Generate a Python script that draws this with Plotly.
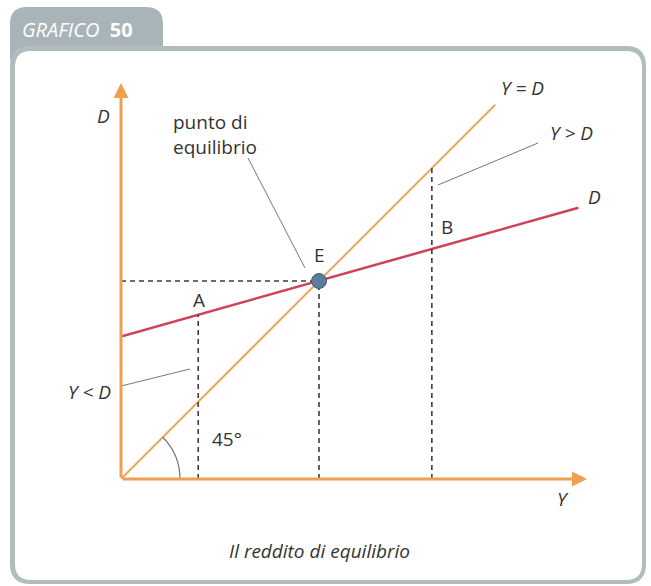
import plotly.graph_objects as go

# ---- data (economic units) ----
Y_a, Y_e, Y_b = 39, 100, 157
line45_x = [0, 189]
line45_y = [0, 189]
D_x = [0, 231]
D_y = [72, 137]
D_at_Ya = 83
E_point = (100, 100)
x_axis_max = 235.35
y_axis_max = 200
tick_vals = [Y_a, Y_e, Y_b]
tick_text = ["Y<sub>a</sub>", "Y<sub>e</sub>", "Y<sub>b</sub>"]

# ---- pixel layout helpers ----
W, H = 651, 586
L, R, T, B = 121, 64, 83, 107
PW, PH = W - L - R, H - T - B
sx = PW / x_axis_max
sy = PH / y_axis_max

def dx(px):  # pixel x -> data x
    return (px - L) / sx

def dy(py):  # pixel y -> data y
    return (H - B - py) / sy

def ppx(px):  # pixel -> paper
    return (px - L) / PW

def ppy(py):
    return (H - B - py) / PH

ORANGE = "#F0A35E"
AXIS_OR = "#EFA04F"
RED = "#D1405A"
TXT = "#333333"
FONT = "Open Sans"
FS = 19

fig = go.Figure()

fig.add_trace(go.Scatter(x=line45_x, y=line45_y, mode="lines",
                         line=dict(color=ORANGE, width=2), hoverinfo="skip", cliponaxis=False))
fig.add_trace(go.Scatter(x=D_x, y=D_y, mode="lines",
                         line=dict(color=RED, width=2.5), hoverinfo="skip", cliponaxis=False))

dash = dict(color="#3c3c3c", width=1.6, dash="5px,4px")
fig.add_trace(go.Scatter(x=[0, E_point[0]], y=[E_point[1], E_point[1]], mode="lines",
                         line=dash, hoverinfo="skip"))
fig.add_trace(go.Scatter(x=[Y_e, Y_e], y=[0, E_point[1]], mode="lines", line=dash, hoverinfo="skip"))
fig.add_trace(go.Scatter(x=[Y_a, Y_a], y=[0, D_at_Ya], mode="lines", line=dash, hoverinfo="skip"))
fig.add_trace(go.Scatter(x=[Y_b, Y_b], y=[0, Y_b], mode="lines", line=dash, hoverinfo="skip"))

fig.add_trace(go.Scatter(x=[E_point[0]], y=[E_point[1]], mode="markers",
                         marker=dict(size=15, color="#5B7C9C", line=dict(color="#3f5c78", width=1)),
                         hoverinfo="skip", cliponaxis=False))

shapes = []
def rrect(x0, y0, x1, y1, r):
    return (f"M {ppx(x0+r)},{ppy(y0)} L {ppx(x1-r)},{ppy(y0)} Q {ppx(x1)},{ppy(y0)} {ppx(x1)},{ppy(y0+r)} "
            f"L {ppx(x1)},{ppy(y1-r)} Q {ppx(x1)},{ppy(y1)} {ppx(x1-r)},{ppy(y1)} "
            f"L {ppx(x0+r)},{ppy(y1)} Q {ppx(x0)},{ppy(y1)} {ppx(x0)},{ppy(y1-r)} "
            f"L {ppx(x0)},{ppy(y0+r)} Q {ppx(x0)},{ppy(y0)} {ppx(x0+r)},{ppy(y0)} Z")

tab = (f"M {ppx(10)},{ppy(60)} L {ppx(10)},{ppy(24)} Q {ppx(10)},{ppy(7)} {ppx(27)},{ppy(7)} "
       f"L {ppx(146)},{ppy(7)} Q {ppx(163)},{ppy(7)} {ppx(163)},{ppy(24)} L {ppx(163)},{ppy(60)} Z")
shapes.append(dict(type="path", xref="paper", yref="paper", path=tab,
                   fillcolor="#A8B4B7", line=dict(width=0), layer="below"))
shapes.append(dict(type="path", xref="paper", yref="paper", path=rrect(10, 46, 646, 584, 20),
                   fillcolor="#B2BCBF", line=dict(width=0), layer="below"))
shapes.append(dict(type="path", xref="paper", yref="paper", path=rrect(15, 51, 642, 580, 16),
                   fillcolor="white", line=dict(width=0), layer="below"))

lead = dict(color="#777777", width=1)
for (x0, y0, x1, y1) in [(248, 158, 305, 268), (538, 143, 438, 185), (117, 387, 190, 369)]:
    shapes.append(dict(type="line", xref="x", yref="y", x0=dx(x0), y0=dy(y0), x1=dx(x1), y1=dy(y1),
                       line=lead))

r = 59 / sx
k = 0.2652
c45 = 0.70711
arc = (f"M {r},0 C {r},{k*r} {r*(c45 + k*c45)},{r*(c45 - k*c45)} {r*c45},{r*c45}")
shapes.append(dict(type="path", xref="x", yref="y", path=arc, line=dict(color="#777777", width=1.2)))

annotations = []
annotations.append(dict(x=x_axis_max, y=0, ax=0, ay=0, xref="x", yref="y", axref="x", ayref="y",
                        showarrow=True, arrowhead=2, arrowsize=1.0, arrowwidth=3, arrowcolor=AXIS_OR,
                        standoff=0, text=""))
annotations.append(dict(x=0, y=y_axis_max, ax=0, ay=0, xref="x", yref="y", axref="x", ayref="y",
                        showarrow=True, arrowhead=2, arrowsize=1.0, arrowwidth=3, arrowcolor=AXIS_OR,
                        standoff=0, text=""))

def txt(text, px, py, size=FS, italic=False, anchor="center", color=TXT):
    t = f"<i>{text}</i>" if italic else text
    annotations.append(dict(x=ppx(px), y=ppy(py), xref="paper", yref="paper", text=t,
                            showarrow=False, xanchor=anchor, yanchor="middle", align="left",
                            font=dict(family=FONT, size=size, color=color)))

txt("D", 103, 116, italic=True)
txt("punto di<br>equilibrio", 171, 134, anchor="left")
txt("E", 319, 255)
txt("A", 199, 300)
txt("B", 447, 227)
txt("Y = D", 522, 88, italic=True)
txt("Y > D", 571, 133, italic=True)
txt("D", 594, 197, italic=True)
txt("Y < D", 89, 392, italic=True)
txt("45°", 227, 439)
for v, t in zip(tick_vals, tick_text):
    annotations.append(dict(x=v, y=dy(500), xref="x", yref="y", text=f"<i>{t}</i>",
                            showarrow=False, yanchor="middle",
                            font=dict(family=FONT, size=FS, color=TXT)))
txt("Y", 563, 499, italic=True)
txt("Il reddito di equilibrio", 319, 551, italic=True)
annotations.append(dict(x=ppx(20), y=ppy(30), xref="paper", yref="paper",
                        text="<i>GRAFICO</i>  <b>50</b>", showarrow=False, xanchor="left",
                        yanchor="middle", font=dict(family=FONT, size=20, color="white")))

fig.update_layout(
    width=W, height=H, margin=dict(l=L, r=R, t=T, b=B),
    paper_bgcolor="white", plot_bgcolor="rgba(0,0,0,0)",
    showlegend=False,
    xaxis=dict(range=[0, x_axis_max], visible=False, fixedrange=True),
    yaxis=dict(range=[0, y_axis_max], visible=False, fixedrange=True),
    shapes=shapes, annotations=annotations,
)

fig.write_html("out.html", config={"displayModeBar": False},
               post_script="document.body.style.margin='0';document.body.style.overflow='hidden';")
